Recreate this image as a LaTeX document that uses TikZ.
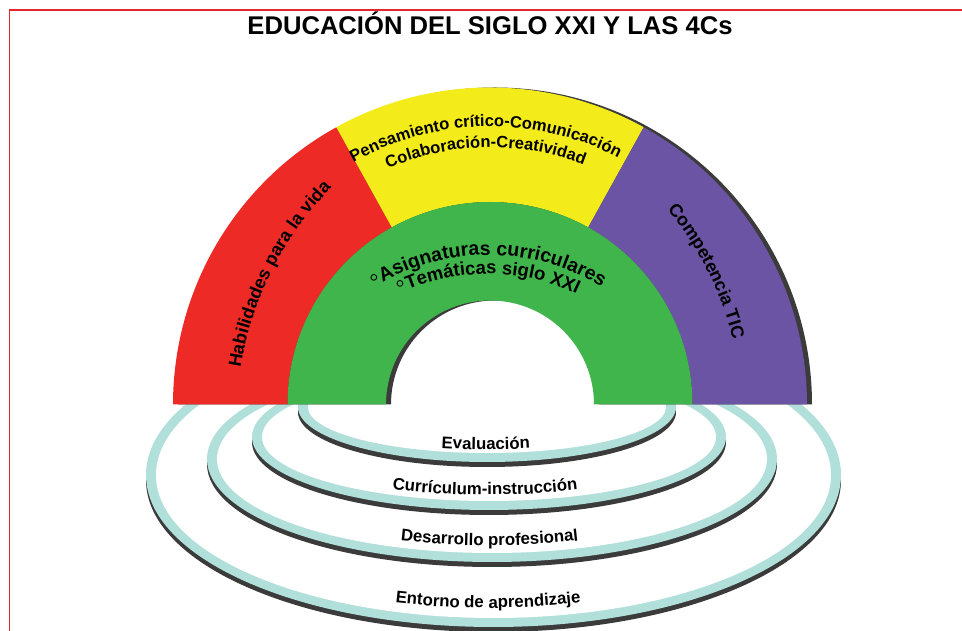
\documentclass[tikz,border=0pt]{standalone}
\usepackage{fontspec}
\setmainfont{Liberation Sans}
\usetikzlibrary{decorations.text}
\definecolor{archred}{RGB}{237,42,37}
\definecolor{archyellow}{RGB}{244,235,26}
\definecolor{archpurple}{RGB}{107,84,163}
\definecolor{archgreen}{RGB}{64,181,75}
\definecolor{ringteal}{RGB}{177,223,218}
\definecolor{shadowgray}{RGB}{59,59,59}
\definecolor{framered}{RGB}{227,38,46}
\newcommand{\titlefont}{\bfseries\fontsize{25.6}{26}\selectfont}
\newcommand{\yfont}{\bfseries\fontsize{16.5}{16.5}\selectfont}
\newcommand{\gfont}{\bfseries\fontsize{19.5}{19.5}\selectfont}
\newcommand{\gfontb}{\bfseries\fontsize{18.5}{18.5}\selectfont}
\newcommand{\bulfont}{\bfseries\fontsize{27}{27}\selectfont}
\newcommand{\sfont}{\bfseries\fontsize{18}{18}\selectfont}
\newcommand{\rfont}{\bfseries\fontsize{16.8}{17}\selectfont}
\tikzset{
  curvedtext/.style={decorate, decoration={text along path, text align=center, text={#1}}},
}
\begin{document}
\begin{tikzpicture}[x=1pt,y=1pt]
\useasboundingbox (0,0) rectangle (962,631);
\fill[white] (0,0) rectangle (962,631);
% frame
\draw[framered, line width=1.1pt] (9.5,-5) -- (9.5,621) -- (975,621);
% title
\node[font=\titlefont, anchor=base, inner sep=0pt] (title) at (490,596) {EDUCACIÓN DEL SIGLO XXI Y LAS 4Cs};

% rings (lower halves, behind the arch)
\begin{scope}
\clip (0,0) rectangle (962,226.5);
\foreach \cx/\cy/\rx/\ry in {493.5/156/347.5/152, 492/172/285/103, 489/194/237/73, 487/224/189/55} {
  \fill[shadowgray] (\cx,\cy-5) ellipse[x radius=\rx pt, y radius=\ry pt];
  \fill[ringteal] (\cx,\cy) ellipse[x radius=\rx pt, y radius=\ry pt];
  \fill[white] (\cx,\cy) ellipse[x radius=\rx pt-10pt, y radius=\ry pt-9pt];
}
\end{scope}

% arch shadow
\begin{scope}[shift={(495,226.5)}]
\fill[shadowgray] (180:317pt) arc[start angle=180, end angle=0, radius=317pt] -- (0:104pt)
  arc[start angle=0, end angle=180, radius=104pt] -- cycle;
\end{scope}
% arch sectors
\begin{scope}[shift={(490,226.5)}]
\fill[archred] (180:317pt) arc[start angle=180, end angle=119, radius=317pt] -- (119:202.5pt)
  arc[start angle=119, end angle=180, radius=202.5pt] -- cycle;
\fill[archyellow] (119:317pt) arc[start angle=119, end angle=61, radius=317pt] -- (61:202.5pt)
  arc[start angle=61, end angle=119, radius=202.5pt] -- cycle;
\fill[archpurple] (61:317pt) arc[start angle=61, end angle=0, radius=317pt] -- (0:202.5pt)
  arc[start angle=0, end angle=61, radius=202.5pt] -- cycle;
\fill[archgreen] (180:202.5pt) arc[start angle=180, end angle=0, radius=202.5pt] -- (0:104pt)
  arc[start angle=0, end angle=180, radius=104pt] -- cycle;
% yellow texts
\path[curvedtext={|\yfont|Pensamiento crítico-Comunicación}]
  (151:278pt) arc[start angle=151, end angle=31, radius=278pt];
\path[curvedtext={|\yfont|Colaboración-Creatividad}]
  (151:257pt) arc[start angle=151, end angle=31, radius=257pt];
\end{scope}

% green texts
\begin{scope}[shift={(488,161)}]
\path[curvedtext={|\bulfont|◦|\gfont|Asignaturas curriculares}]
  (150:215pt) arc[start angle=150, end angle=30, radius=215pt];
\end{scope}
\begin{scope}[shift={(488,150)}]
\path[curvedtext={|\bulfont|◦|\gfontb|Temáticas siglo XXI}]
  (150:207pt) arc[start angle=150, end angle=30, radius=207pt];
\end{scope}

% side texts
\begin{scope}[shift={(568,211)}]
\path[curvedtext={|\sfont|Habilidades para la vida}]
  (180:331.5pt) arc[start angle=180, end angle=126.5, radius=331.5pt];
\end{scope}
\begin{scope}[shift={(411.4,211)}]
\path[curvedtext={|\sfont|Competencia TIC}]
  (53.5:331.5pt) arc[start angle=53.5, end angle=0, radius=331.5pt];
\end{scope}

% ring texts
\begin{scope}[shift={(485.8,981.5)}]
\path[curvedtext={|\rfont|Evaluación}]
  (255:800pt) arc[start angle=255, end angle=285, radius=800pt];
\end{scope}
\begin{scope}[shift={(485,936)}]
\path[curvedtext={|\rfont|Currículum-instrucción}]
  (255:800pt) arc[start angle=255, end angle=285, radius=800pt];
\end{scope}
\begin{scope}[shift={(489.5,885.5)}]
\path[curvedtext={|\rfont|Desarrollo profesional}]
  (255:800pt) arc[start angle=255, end angle=285, radius=800pt];
\end{scope}
\begin{scope}[shift={(488,823)}]
\path[curvedtext={|\rfont|Entorno de aprendizaje}]
  (255:800pt) arc[start angle=255, end angle=285, radius=800pt];
\end{scope}
\end{tikzpicture}
\end{document}
